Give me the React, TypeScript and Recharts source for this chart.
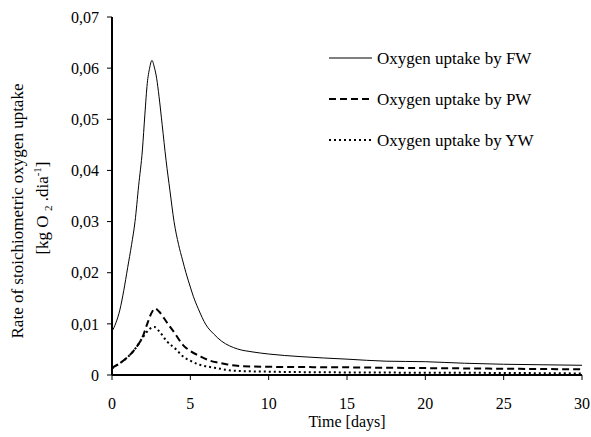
import React from 'react';
import { LineChart, Line, XAxis, YAxis } from 'recharts';

const fwDays = [0, 0.25, 0.5, 0.75, 1, 1.25, 1.47, 1.7, 1.94, 2.1, 2.25, 2.4, 2.55, 2.7, 2.85, 3.0, 3.2, 3.45, 3.7, 3.96, 4.25, 4.5, 4.72, 5, 5.2, 5.5, 6, 6.5, 7, 7.5, 8, 9, 10, 12, 15, 17.5, 20, 22.5, 25, 27.5, 30];
const fwRate = [0.0085, 0.0102, 0.0127, 0.0165, 0.021, 0.0255, 0.030, 0.037, 0.044, 0.051, 0.057, 0.060, 0.0615, 0.0602, 0.058, 0.0545, 0.049, 0.042, 0.036, 0.030, 0.0255, 0.0225, 0.020, 0.0172, 0.0153, 0.013, 0.0098, 0.0080, 0.0066, 0.0057, 0.0051, 0.0045, 0.0041, 0.0036, 0.0031, 0.0027, 0.0026, 0.0023, 0.0021, 0.0020, 0.0019];

const pwDays = [0, 0.5, 1, 1.5, 2, 2.25, 2.5, 2.75, 3, 3.5, 4, 4.55, 5, 5.6, 6.25, 6.8, 7.3, 8, 10, 15, 18, 22, 26, 30];
const pwRate = [0.0014, 0.0023, 0.0035, 0.0052, 0.0078, 0.0100, 0.0120, 0.0130, 0.0124, 0.0103, 0.0082, 0.0058, 0.0047, 0.0037, 0.0028, 0.0024, 0.0021, 0.0018, 0.0016, 0.0015, 0.0014, 0.0013, 0.0012, 0.0011];

const ywDays = [0, 0.5, 1, 1.5, 2, 2.4, 2.7, 3, 3.5, 4.13, 4.5, 5, 5.6, 6.2, 6.8, 7.3, 8, 10, 15, 20, 25, 30];
const ywRate = [0.0013, 0.0023, 0.0035, 0.0052, 0.0075, 0.0090, 0.0094, 0.0086, 0.0066, 0.0049, 0.0037, 0.0028, 0.0020, 0.0016, 0.0013, 0.0010, 0.0008, 0.00065, 0.0005, 0.00045, 0.0004, 0.0003];

const xTicks = [0, 5, 10, 15, 20, 25, 30];
const yTicks = [0, 0.01, 0.02, 0.03, 0.04, 0.05, 0.06, 0.07];

const seriesNames = ['Oxygen uptake by FW', 'Oxygen uptake by PW', 'Oxygen uptake by YW'];

const toPoints = (xs: number[], ys: number[]) => xs.map((x, i) => ({ x, y: ys[i] }));
const fwData = toPoints(fwDays, fwRate);
const pwData = toPoints(pwDays, pwRate);
const ywData = toPoints(ywDays, ywRate);

const FONT = '"Liberation Serif", "Times New Roman", serif';
const fmtY = (v: number) => (v === 0 ? '0' : v.toFixed(2).replace('.', ','));

const YLabel = () => (
  <g fontFamily={FONT} fill="#000">
    <text x={23} y={211} transform="rotate(-90, 23, 211)" textAnchor="middle" fontSize={17}>
      Rate of stoichiometric oxygen uptake
    </text>
    <text x={48} y={208} transform="rotate(-90, 48, 208)" textAnchor="middle" fontSize={17}>
      <tspan>[kg O </tspan>
      <tspan fontSize={11} dy={4}>2</tspan>
      <tspan dy={-4}> .dia</tspan>
      <tspan fontSize={11} dy={-7}>-1</tspan>
      <tspan dy={7}>]</tspan>
    </text>
  </g>
);

const LegendBox = () => {
  const styles = [
    { dash: undefined, width: 1 },
    { dash: '7 4', width: 2 },
    { dash: '2 3', width: 2 },
  ];
  const ys = [58, 99, 140];
  return (
    <g fontFamily={FONT}>
      {seriesNames.map((n, i) => (
        <g key={n}>
          <line x1={329} x2={372} y1={ys[i]} y2={ys[i]} stroke="#000" strokeWidth={styles[i].width} strokeDasharray={styles[i].dash} />
          <text x={377} y={ys[i] + 6} fontSize={17} fill="#000">{n}</text>
        </g>
      ))}
    </g>
  );
};

export default function App() {
  return (
    <div style={{ position: 'absolute', left: 0, top: 0, background: '#fff' }}>
      <LineChart width={591} height={437} margin={{ top: 17, right: 9, bottom: 32, left: 0 }}>
        <XAxis
          dataKey="x"
          type="number"
          domain={[0, 30]}
          ticks={xTicks}
          allowDataOverflow
          stroke="#000"
          axisLine={{ stroke: '#000', strokeWidth: 2 }}
          tickLine={{ stroke: '#000', strokeWidth: 1 }}
          tickSize={5}
          tickMargin={18}
          height={30}
          tick={{ fill: '#000', fontSize: 16, fontFamily: FONT }}
          label={{ value: 'Time [days]', position: 'bottom', offset: 11, fill: '#000', fontSize: 16, fontFamily: FONT }}
        />
        <XAxis xAxisId="top" orientation="top" type="number" domain={[0, 30]} height={0} tick={false} tickLine={false} axisLine={{ stroke: '#000', strokeWidth: 1 }} />
        <YAxis
          type="number"
          domain={[0, 0.07]}
          ticks={yTicks}
          allowDataOverflow
          width={112}
          tickFormatter={fmtY}
          axisLine={{ stroke: '#000', strokeWidth: 2 }}
          tickLine={{ stroke: '#000', strokeWidth: 1 }}
          tickSize={5}
          tickMargin={8}
          tick={{ fill: '#000', fontSize: 16, fontFamily: FONT }}
          label={<YLabel />}
        />
        <YAxis yAxisId="right" orientation="right" width={0} tick={false} tickLine={false} axisLine={{ stroke: '#000', strokeWidth: 1 }} />
        <Line data={fwData} dataKey="y" type="monotone" stroke="#000" strokeWidth={1} dot={false} isAnimationActive={false} />
        <Line data={pwData} dataKey="y" type="monotone" stroke="#000" strokeWidth={2} strokeDasharray="7 4" dot={false} isAnimationActive={false} />
        <Line data={ywData} dataKey="y" type="monotone" stroke="#000" strokeWidth={2} strokeDasharray="2 3" dot={false} isAnimationActive={false} />
        <LegendBox />
      </LineChart>
    </div>
  );
}
